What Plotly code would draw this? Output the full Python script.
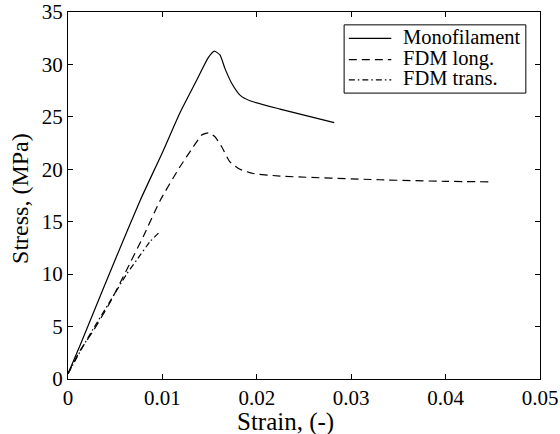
import plotly.graph_objects as go

mono_strain = [0.0, 0.00127, 0.00268, 0.00515, 0.00763, 0.0101, 0.01186, 0.01363, 0.01486, 0.0155, 0.0161, 0.01663, 0.01734, 0.01822, 0.01928, 0.02246, 0.0282]
mono_stress = [0.5, 3.2, 6.3, 11.7, 17.0, 21.8, 25.4, 28.5, 30.65, 31.27, 30.9, 29.6, 28.2, 27.07, 26.53, 25.74, 24.45]

long_strain = [0.0, 0.00127, 0.00268, 0.00445, 0.00621, 0.00798, 0.00975, 0.01186, 0.01328, 0.01416, 0.01486, 0.01557, 0.01628, 0.01716, 0.01822, 0.01963, 0.02246, 0.0330, 0.0400, 0.0447]
long_stress = [0.5, 2.7, 4.6, 7.3, 10.4, 13.6, 17.0, 20.24, 22.15, 23.26, 23.48, 23.1, 22.15, 20.7, 20.0, 19.6, 19.35, 19.0, 18.85, 18.8]

trans_strain = [0.0, 0.00127, 0.00268, 0.00445, 0.00621, 0.00727, 0.00869, 0.00975]
trans_stress = [0.5, 2.6, 4.8, 7.4, 10.0, 11.34, 13.1, 14.05]

series_names = ["Monofilament", "FDM long.", "FDM trans."]
series_dash = ["solid", "8px,5px", "6px,3px,1.5px,3px"]
series_x = [mono_strain, long_strain, trans_strain]
series_y = [mono_stress, long_stress, trans_stress]

x_ticks = [0, 0.01, 0.02, 0.03, 0.04, 0.05]
x_tick_labels = ["0", "0.01", "0.02", "0.03", "0.04", "0.05"]
y_ticks = [0, 5, 10, 15, 20, 25, 30, 35]

font_family = "Liberation Serif"

fig = go.Figure()
for name, xs, ys, dash in zip(series_names, series_x, series_y, series_dash):
    fig.add_trace(go.Scatter(x=xs, y=ys, mode="lines", name=name, showlegend=False,
                             line=dict(color="black", width=1.2, dash=dash,
                                       shape="spline", smoothing=0.5)))

axis_common = dict(showgrid=False, zeroline=False, showline=True, linecolor="black", linewidth=1,
                   mirror="ticks", ticks="inside", ticklen=5, tickcolor="black", automargin=False,
                   ticklabeloverflow="allow",
                   tickfont=dict(family=font_family, size=21, color="black"))

# custom legend box (paper coordinates of the plot area)
leg_x0, leg_x1, leg_y0, leg_y1 = 0.585, 0.970, 0.779, 0.965
row_y = [0.928, 0.870, 0.815]
shapes = [dict(type="rect", xref="paper", yref="paper", x0=leg_x0, x1=leg_x1, y0=leg_y0, y1=leg_y1,
               line=dict(color="black", width=1), fillcolor="white", layer="above")]
annotations = []
for name, dash, ry in zip(series_names, series_dash, row_y):
    shapes.append(dict(type="line", xref="paper", yref="paper", x0=0.595, x1=0.685, y0=ry, y1=ry,
                       line=dict(color="black", width=1.2, dash=dash), layer="above"))
    annotations.append(dict(xref="paper", yref="paper", x=0.705, y=ry + 0.004, text=name,
                            showarrow=False, xanchor="left", yanchor="middle",
                            font=dict(family=font_family, size=20.5, color="black")))

annotations.append(dict(xref="paper", yref="paper", x=0.46, y=-0.118, text="Strain, (-)",
                        showarrow=False, xanchor="center", yanchor="middle",
                        font=dict(family=font_family, size=25, color="black")))
annotations.append(dict(xref="paper", yref="paper", x=-0.102, y=0.493, text="Stress, (MPa)",
                        showarrow=False, xanchor="center", yanchor="middle", textangle=-90,
                        font=dict(family=font_family, size=24, color="black")))

fig.update_layout(
    width=560, height=434,
    margin=dict(l=68, r=20, t=12, b=55),
    paper_bgcolor="white", plot_bgcolor="white",
    font=dict(family=font_family, color="black"),
    xaxis=dict(range=[0, 0.05], tickvals=x_ticks, ticktext=x_tick_labels, **axis_common),
    yaxis=dict(range=[0, 35], tickvals=y_ticks, **axis_common),
    shapes=shapes,
    annotations=annotations,
    showlegend=False,
)

# remove the browser's default 8px body margin so the figure fills the window exactly
fig.write_html("out.html", config={"displayModeBar": False},
               post_script="document.body.style.margin='0px';")
